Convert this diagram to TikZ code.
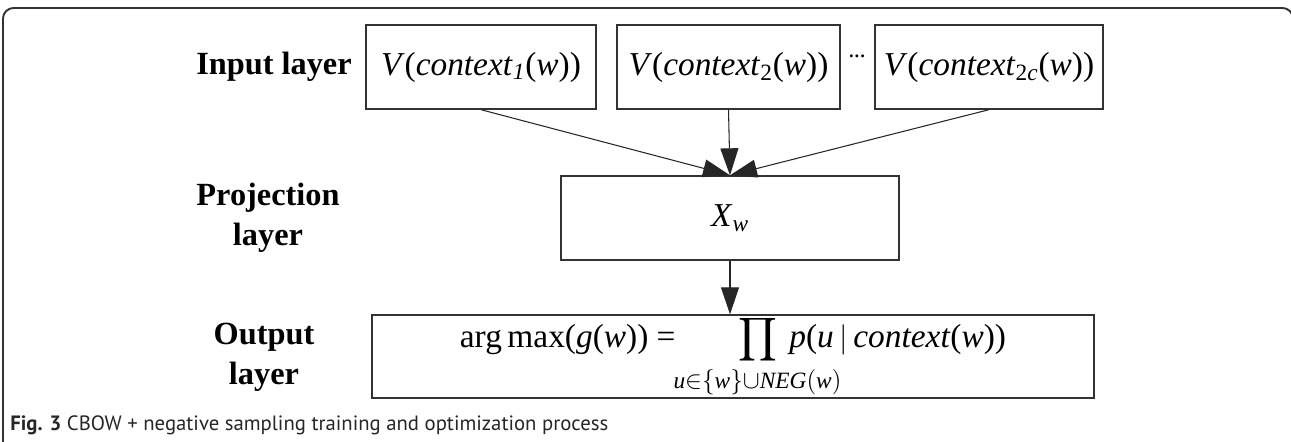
\documentclass[tikz,border=0pt]{standalone}
\usepackage{amsmath}
\usepackage{mathtools}
\usepackage{fontspec}
\setmainfont{Liberation Serif}
\newfontfamily\capfont{PT Sans}
\usetikzlibrary{positioning, calc, arrows.meta}

% italic letters in the Times-like text face
\newcommand{\itl}[1]{\textit{#1}}
\newcommand{\vctx}[1]{\itl{V}(\itl{context}\textsubscript{#1}(\itl{w}))}

\begin{document}
\begin{tikzpicture}[
  x=0.02cm, y=-0.02cm,
  >={Triangle[length=5.4mm,width=3.6mm]},
  ctxBox/.style={draw=black!80, line width=0.8pt, minimum height=1.68cm,
    inner sep=0pt, font=\fontsize{19}{22}\selectfont},
  layerLbl/.style={align=center, font=\fontsize{18.4}{23}\selectfont\bfseries},
  flow/.style={black!85, line width=0.6pt, ->},
]
\definecolor{cFrame}{HTML}{333333}
\useasboundingbox (0,0) rectangle (1291,442);

% ---------- open frame ----------
\draw[cFrame, line width=1.1pt, rounded corners=6pt]
  (3,460) -- (3,8) -- (1293,8) -- (1293,60);

% ---------- input layer ----------
\node[layerLbl] (inLbl) at (274,67) {Input layer};
\node[ctxBox, minimum width=4.6cm] (ctxA) at (481,67)
  {\vctx{\itl{1}}};
\node[ctxBox, minimum width=4.46cm] (ctxB) at (728.5,67)
  {\vctx{2}};
\node[ctxBox, minimum width=4.56cm] (ctxC) at (989,67)
  {\vctx{2\itl{c}}};
\node[inner sep=0pt, font=\fontsize{14}{16}\selectfont] (ctxDots) at (857.5,60)
  {\kern-0.5pt·\kern-1.5pt·\kern-1.5pt·};

% ---------- projection layer ----------
\node[layerLbl] (projLbl) at (268,218) {Projection\\layer};
\node[ctxBox, minimum width=6.76cm] (projBox) at (730,218)
  {\itl{X}\textsubscript{\itl{w}}};

\foreach \src in {ctxA, ctxB, ctxC}
  \draw[flow] (\src.south) -- (projBox.north);

% ---------- output layer ----------
\node[layerLbl] (outLbl) at (264,357) {Output\\layer};
\node[ctxBox, minimum width=14.44cm, minimum height=1.66cm] (outBox) at (733,356.5)
  {arg\,max(\itl{g}(\itl{w})) =\hspace{1.25cm}%
   $\displaystyle\prod_{\mathclap{\text{\itl{u}}\in\{\text{\itl{w}}\}\cup\text{\itl{NEG}}(\text{\itl{w}})}}$%
   \hspace{0.25cm}%
   \itl{p}(\itl{u}\,$|$\,\itl{context}(\itl{w}))\hspace{0.68cm}};

\draw[flow] (projBox.south) -- (projBox.south |- outBox.north);

% ---------- caption ----------
\node[anchor=base west, inner sep=0pt, font=\capfont\fontsize{11.8}{14}\selectfont,
      text=black!85] (figCap) at (10,430)
  {\textbf{Fig. 3} CBOW + negative sampling training and optimization process};

\end{tikzpicture}
\end{document}
